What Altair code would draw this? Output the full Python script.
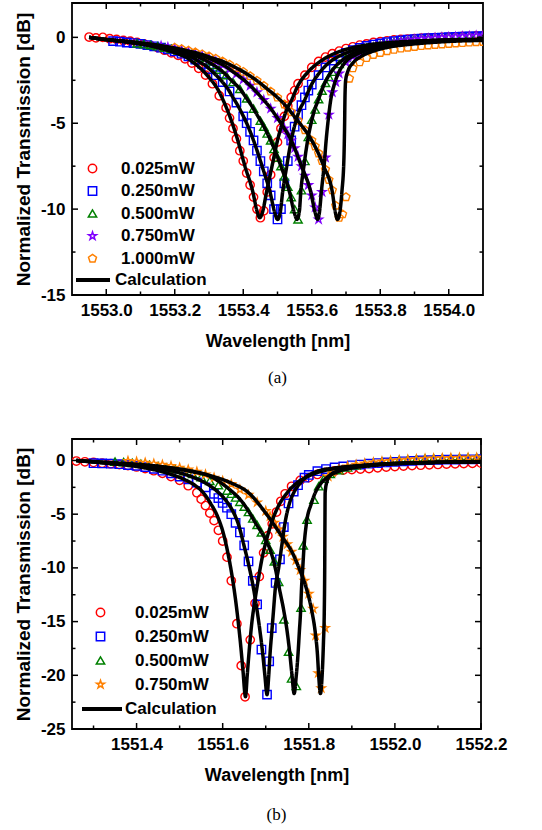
import altair as alt
import pandas as pd

FONT = "Liberation Sans"
SERIF = "Liberation Serif"

STAR = "M0,-1L0.2245,-0.309L0.9511,-0.309L0.3633,0.118L0.5878,0.809L0,0.382L-0.5878,0.809L-0.3633,0.118L-0.9511,-0.309L-0.2245,-0.309Z"
PENTAGON = "M0,-1L0.9511,-0.309L0.5878,0.809L-0.5878,0.809L-0.9511,-0.309Z"

# ------------------------------------------------------------------ panel (a)
powers_a = ["0.025mW", "0.250mW", "0.500mW", "0.750mW", "1.000mW"]
colors_a = ["#FF0000", "#0000FF", "#008000", "#8000FF", "#FF8000"]
shapes_a = ["circle", "square", "triangle-up", STAR, PENTAGON]

a025_x = [1552.95, 1552.97, 1552.99, 1553.01, 1553.03, 1553.05, 1553.07, 1553.09, 1553.11, 1553.13, 1553.15,
          1553.17, 1553.19, 1553.21, 1553.23, 1553.25, 1553.27, 1553.29, 1553.31, 1553.33, 1553.35,
          1553.36, 1553.37, 1553.38, 1553.39, 1553.40, 1553.41, 1553.42, 1553.43, 1553.44, 1553.45, 1553.46,
          1553.47, 1553.48, 1553.49, 1553.50, 1553.51, 1553.52, 1553.53, 1553.54, 1553.55, 1553.56,
          1553.58, 1553.60, 1553.62, 1553.64, 1553.66, 1553.68, 1553.70, 1553.72, 1553.74, 1553.76, 1553.78,
          1553.80, 1553.82, 1553.84, 1553.86, 1553.88, 1553.90, 1553.92, 1553.94, 1553.96, 1553.98, 1554.00,
          1554.02, 1554.04, 1554.06, 1554.08, 1554.10]
a025_y = [0.02, -0.03, 0.0, -0.08, -0.12, -0.18, -0.22, -0.3, -0.38, -0.48, -0.6, -0.75, -0.9, -1.05, -1.25,
          -1.5, -1.8, -2.2, -2.7, -3.4, -4.1,
          -4.7, -5.3, -5.9, -6.6, -7.2, -7.9, -8.6, -9.3, -10.0, -10.5, -10.1, -9.0, -8.0, -7.0, -6.1, -5.3,
          -4.6, -4.0, -3.5, -3.1, -2.7,
          -2.2, -1.75, -1.4, -1.15, -0.95, -0.8, -0.65, -0.55, -0.45, -0.38, -0.3, -0.25, -0.2, -0.15, -0.12,
          -0.1, -0.07, -0.05, -0.03, -0.01, 0.0, 0.02, 0.03, 0.05, 0.06, 0.08, 0.1]

a250_x = [1553.02, 1553.04, 1553.06, 1553.08, 1553.10, 1553.12, 1553.14, 1553.16, 1553.18, 1553.20, 1553.22,
          1553.24, 1553.26, 1553.28, 1553.30, 1553.32, 1553.34, 1553.36, 1553.38, 1553.40,
          1553.41, 1553.42, 1553.43, 1553.44, 1553.45, 1553.46, 1553.47, 1553.48, 1553.49, 1553.50, 1553.51,
          1553.52, 1553.53, 1553.54, 1553.55, 1553.56, 1553.57, 1553.58, 1553.59, 1553.60,
          1553.62, 1553.64, 1553.66, 1553.68, 1553.70, 1553.72, 1553.74, 1553.76, 1553.78, 1553.80, 1553.82,
          1553.84, 1553.86, 1553.88, 1553.90, 1553.92, 1553.94, 1553.96, 1553.98, 1554.00, 1554.02, 1554.04,
          1554.06, 1554.08, 1554.10]
a250_y = [-0.22, -0.25, -0.3, -0.33, -0.38, -0.45, -0.52, -0.6, -0.7, -0.82, -0.95, -1.1, -1.3, -1.55, -1.85,
          -2.2, -2.6, -3.15, -3.8, -4.6,
          -5.0, -5.5, -6.0, -6.6, -7.2, -7.8, -8.5, -9.2, -10.0, -10.6, -10.0, -8.5, -7.2, -6.0, -5.2, -4.5,
          -3.95, -3.5, -3.1, -2.75,
          -2.2, -1.75, -1.35, -1.1, -0.9, -0.75, -0.62, -0.5, -0.42, -0.35, -0.28, -0.22, -0.18, -0.14, -0.1,
          -0.08, -0.05, -0.03, -0.01, 0.01, 0.03, 0.04, 0.05, 0.06, 0.07]

a500_x = [1553.09, 1553.11, 1553.13, 1553.15, 1553.17, 1553.19, 1553.21, 1553.23, 1553.25, 1553.27, 1553.29,
          1553.31, 1553.33, 1553.35, 1553.37, 1553.39, 1553.41, 1553.43, 1553.45,
          1553.46, 1553.47, 1553.48, 1553.49, 1553.50, 1553.51, 1553.52, 1553.53, 1553.54, 1553.55, 1553.56,
          1553.57, 1553.58, 1553.59, 1553.60, 1553.61, 1553.62, 1553.63, 1553.64, 1553.65, 1553.66,
          1553.68, 1553.70, 1553.72, 1553.74, 1553.76, 1553.78, 1553.80, 1553.82, 1553.84, 1553.86, 1553.88,
          1553.90, 1553.92, 1553.94, 1553.96, 1553.98, 1554.00, 1554.02, 1554.04, 1554.06, 1554.08, 1554.10]
a500_y = [-0.35, -0.4, -0.45, -0.52, -0.6, -0.67, -0.76, -0.88, -1.0, -1.18, -1.35, -1.6, -1.88, -2.2, -2.6,
          -3.0, -3.55, -4.15, -4.85,
          -5.2, -5.6, -6.0, -6.5, -7.0, -7.5, -8.1, -8.7, -9.3, -10.0, -10.6, -8.9, -7.2, -5.8, -4.8, -4.2,
          -3.6, -3.1, -2.65, -2.3, -2.0,
          -1.55, -1.2, -0.95, -0.78, -0.62, -0.52, -0.42, -0.33, -0.26, -0.2, -0.15, -0.1, -0.07, -0.04,
          -0.02, 0.0, 0.02, 0.04, 0.05, 0.07, 0.08, 0.09]

a750_x = [1553.16, 1553.18, 1553.20, 1553.22, 1553.24, 1553.26, 1553.28, 1553.30, 1553.32, 1553.34, 1553.36,
          1553.38, 1553.40, 1553.42, 1553.44, 1553.46, 1553.48, 1553.50, 1553.52,
          1553.53, 1553.54, 1553.55, 1553.56, 1553.57, 1553.58, 1553.59, 1553.60, 1553.61, 1553.62, 1553.63,
          1553.64, 1553.65, 1553.66, 1553.67, 1553.68,
          1553.70, 1553.72, 1553.74, 1553.76, 1553.78, 1553.80, 1553.82, 1553.84, 1553.86, 1553.88, 1553.90,
          1553.92, 1553.94, 1553.96, 1553.98, 1554.00, 1554.02, 1554.04, 1554.06, 1554.08, 1554.10]
a750_y = [-0.5, -0.58, -0.66, -0.75, -0.85, -0.95, -1.08, -1.23, -1.4, -1.6, -1.85, -2.12, -2.45, -2.82, -3.2,
          -3.65, -4.15, -4.7, -5.3,
          -5.65, -6.0, -6.45, -6.95, -7.5, -8.05, -8.6, -9.2, -9.9, -10.6, -9.0, -7.0, -4.5, -3.2, -2.6, -2.1,
          -1.45, -1.1, -0.9, -0.75, -0.6, -0.5, -0.4, -0.32, -0.25, -0.19, -0.14, -0.1, -0.07, -0.04, -0.01,
          0.01, 0.03, 0.05, 0.07, 0.09, 0.1]

a1000_x = [1553.20, 1553.22, 1553.24, 1553.26, 1553.28, 1553.30, 1553.32, 1553.34, 1553.36, 1553.38, 1553.40,
           1553.42, 1553.44, 1553.46, 1553.48, 1553.50, 1553.52, 1553.54, 1553.56, 1553.58, 1553.60,
           1553.61, 1553.62, 1553.63, 1553.64, 1553.65, 1553.66, 1553.67, 1553.68, 1553.69, 1553.70, 1553.71,
           1553.72,
           1553.74, 1553.76, 1553.78, 1553.80, 1553.82, 1553.84, 1553.86, 1553.88, 1553.90, 1553.92, 1553.94,
           1553.96, 1553.98, 1554.00, 1554.02, 1554.04, 1554.06, 1554.08, 1554.10]
a1000_y = [-0.6, -0.68, -0.77, -0.87, -0.98, -1.1, -1.24, -1.4, -1.58, -1.78, -2.0, -2.25, -2.52, -2.82, -3.15,
           -3.5, -3.9, -4.35, -4.85, -5.4, -6.0,
           -6.35, -6.75, -7.2, -7.7, -8.3, -8.9, -9.8, -10.5, -10.3, -9.3, -2.4, -1.8,
           -1.45, -1.2, -1.02, -0.9, -0.8, -0.72, -0.65, -0.6, -0.55, -0.5, -0.47, -0.44, -0.41, -0.38, -0.35,
           -0.33, -0.3, -0.28, -0.26]

# calculation curves (a)
ca025_x = [1552.95, 1552.98, 1553.01, 1553.04, 1553.07, 1553.11, 1553.14, 1553.17, 1553.195, 1553.215,
           1553.235, 1553.25, 1553.268, 1553.285, 1553.305, 1553.325, 1553.34, 1553.355, 1553.368, 1553.384,
           1553.405, 1553.428, 1553.44, 1553.448, 1553.456, 1553.468, 1553.484, 1553.500, 1553.514, 1553.525,
           1553.540, 1553.56, 1553.59, 1553.625, 1553.66, 1553.70, 1553.76, 1553.83, 1553.92, 1554.0, 1554.1]
ca025_y = [0.0, -0.08, -0.15, -0.22, -0.3, -0.42, -0.55, -0.7, -0.86, -1.0,
           -1.18, -1.4, -1.68, -2.0, -2.45, -3.0, -3.6, -4.3, -5.0, -6.0,
           -7.5, -9.0, -10.1, -10.5, -10.2, -9.0, -7.5, -6.0, -5.0, -4.3,
           -3.7, -2.8, -2.0, -1.4, -1.0, -0.7, -0.45, -0.3, -0.2, -0.15, -0.12]
ca250_x = [1552.95, 1552.98, 1553.01, 1553.05, 1553.09, 1553.12, 1553.15, 1553.18, 1553.205, 1553.23,
           1553.25, 1553.27, 1553.29, 1553.31, 1553.335, 1553.355, 1553.37, 1553.385, 1553.398, 1553.41,
           1553.43, 1553.455, 1553.478, 1553.492, 1553.50, 1553.508, 1553.515, 1553.527, 1553.540, 1553.552,
           1553.563, 1553.578, 1553.598, 1553.625, 1553.655, 1553.69, 1553.73, 1553.79, 1553.86, 1553.94,
           1554.02, 1554.1]
ca250_y = [0.0, -0.08, -0.15, -0.25, -0.35, -0.45, -0.56, -0.7, -0.84, -1.0,
           -1.15, -1.4, -1.65, -2.0, -2.5, -3.0, -3.5, -4.0, -4.5, -5.0,
           -6.0, -7.5, -9.0, -10.2, -10.6, -10.2, -9.0, -7.5, -6.0, -5.0,
           -4.3, -3.7, -2.8, -2.0, -1.4, -1.0, -0.7, -0.45, -0.3, -0.2, -0.15, -0.13]
ca500_x = [1552.95, 1552.98, 1553.01, 1553.06, 1553.10, 1553.13, 1553.165, 1553.20, 1553.225, 1553.25,
           1553.275, 1553.295, 1553.32, 1553.34, 1553.365, 1553.39, 1553.408, 1553.425, 1553.44, 1553.455,
           1553.48, 1553.51, 1553.535, 1553.549, 1553.557, 1553.564, 1553.568, 1553.577, 1553.588, 1553.598,
           1553.607, 1553.618, 1553.635, 1553.657, 1553.685, 1553.715, 1553.755, 1553.81, 1553.88, 1553.96,
           1554.04, 1554.1]
ca500_y = [0.0, -0.08, -0.15, -0.25, -0.35, -0.45, -0.57, -0.7, -0.84, -1.0,
           -1.2, -1.4, -1.7, -2.0, -2.5, -3.0, -3.5, -4.0, -4.5, -5.0,
           -6.0, -7.5, -9.0, -10.2, -10.6, -10.1, -9.0, -7.5, -6.0, -5.0,
           -4.3, -3.7, -2.8, -2.0, -1.4, -1.0, -0.7, -0.45, -0.3, -0.2, -0.15, -0.13]
ca750_x = [1552.95, 1552.98, 1553.01, 1553.06, 1553.10, 1553.14, 1553.175, 1553.21, 1553.24, 1553.27,
           1553.295, 1553.32, 1553.345, 1553.37, 1553.40, 1553.43, 1553.453, 1553.475, 1553.493, 1553.51,
           1553.54, 1553.57, 1553.597, 1553.61, 1553.617, 1553.623, 1553.628, 1553.636, 1553.642, 1553.647,
           1553.651, 1553.655, 1553.665, 1553.68, 1553.70, 1553.73, 1553.77, 1553.83, 1553.90, 1553.97,
           1554.04, 1554.1]
ca750_y = [0.0, -0.08, -0.15, -0.25, -0.35, -0.45, -0.57, -0.7, -0.84, -1.0,
           -1.18, -1.4, -1.65, -2.0, -2.45, -3.0, -3.5, -4.0, -4.5, -5.0,
           -6.0, -7.5, -9.0, -10.2, -10.6, -10.1, -9.0, -7.5, -6.0, -5.0,
           -4.3, -3.7, -2.8, -2.0, -1.4, -1.0, -0.7, -0.45, -0.3, -0.2, -0.15, -0.13]
ca1000_x = [1552.95, 1552.98, 1553.01, 1553.07, 1553.11, 1553.15, 1553.185, 1553.22, 1553.25, 1553.28,
            1553.31, 1553.34, 1553.37, 1553.40, 1553.435, 1553.47, 1553.50, 1553.525, 1553.545, 1553.565,
            1553.60, 1553.635, 1553.66, 1553.669, 1553.675, 1553.681, 1553.688, 1553.694, 1553.696, 1553.697,
            1553.699, 1553.705, 1553.72, 1553.745, 1553.78, 1553.83, 1553.89, 1553.95, 1554.02, 1554.1]
ca1000_y = [0.0, -0.08, -0.15, -0.25, -0.35, -0.45, -0.57, -0.7, -0.84, -1.0,
            -1.2, -1.4, -1.68, -2.0, -2.45, -3.0, -3.5, -4.0, -4.5, -5.0,
            -6.0, -7.5, -9.0, -10.2, -10.6, -10.3, -9.0, -7.0, -5.0, -3.5,
            -2.5, -2.0, -1.5, -1.1, -0.8, -0.55, -0.4, -0.3, -0.22, -0.18]

xmajor_a = [1553.0, 1553.2, 1553.4, 1553.6, 1553.8, 1554.0]
xminor_a = [1553.1, 1553.3, 1553.5, 1553.7, 1553.9]
ymajor_a = [-15, -10, -5, 0]
yminor_a = [-12.5, -7.5, -2.5]

# ------------------------------------------------------------------ panel (b)
powers_b = ["0.025mW", "0.250mW", "0.500mW", "0.750mW"]
colors_b = ["#FF0000", "#0000FF", "#008000", "#FF8000"]
shapes_b = ["circle", "square", "triangle-up", STAR]

b025_x = [1551.26, 1551.28, 1551.30, 1551.32, 1551.34, 1551.36, 1551.38, 1551.40, 1551.42, 1551.44, 1551.46,
          1551.48, 1551.50, 1551.52, 1551.54,
          1551.55, 1551.56, 1551.57, 1551.58, 1551.59, 1551.60, 1551.61, 1551.62, 1551.633, 1551.643, 1551.652,
          1551.664, 1551.675, 1551.685, 1551.695, 1551.705, 1551.715, 1551.725, 1551.735, 1551.745, 1551.76,
          1551.78, 1551.80, 1551.82, 1551.84, 1551.86, 1551.88, 1551.90, 1551.92, 1551.94, 1551.96, 1551.98,
          1552.00, 1552.02, 1552.04, 1552.06, 1552.08, 1552.10, 1552.12, 1552.14, 1552.16, 1552.18, 1552.20]
b025_y = [-0.05, -0.12, -0.18, -0.25, -0.3, -0.38, -0.48, -0.6, -0.75, -0.95, -1.2, -1.5, -1.85, -2.35, -3.0,
          -3.6, -4.2, -4.9, -5.6, -6.5, -7.5, -9.0, -11.2, -15.2, -19.1, -22.0, -16.7, -13.3, -10.8, -8.6,
          -7.0, -5.9, -4.8, -3.8, -3.1, -2.4,
          -1.85, -1.6, -1.3, -1.1, -0.98, -0.9, -0.85, -0.8, -0.75, -0.68, -0.62, -0.56, -0.52, -0.48, -0.44,
          -0.4, -0.37, -0.34, -0.31, -0.29, -0.27, -0.25]

b250_x = [1551.30, 1551.32, 1551.34, 1551.36, 1551.38, 1551.40, 1551.42, 1551.44, 1551.46, 1551.48, 1551.50,
          1551.52, 1551.54, 1551.56, 1551.58,
          1551.59, 1551.60, 1551.61, 1551.62, 1551.63, 1551.64, 1551.65, 1551.66, 1551.67, 1551.68, 1551.69,
          1551.703, 1551.708, 1551.714, 1551.723, 1551.733, 1551.742, 1551.753, 1551.765, 1551.775, 1551.79,
          1551.80, 1551.82, 1551.84, 1551.86, 1551.88, 1551.90, 1551.92, 1551.94, 1551.96, 1551.98, 1552.00,
          1552.02, 1552.04, 1552.06, 1552.08, 1552.10, 1552.12, 1552.14, 1552.16, 1552.18, 1552.20]
b250_y = [-0.25, -0.28, -0.3, -0.35, -0.42, -0.5, -0.62, -0.78, -0.95, -1.2, -1.5, -1.75, -2.05, -2.5, -3.1,
          -3.5, -3.95, -4.4, -5.0, -5.8, -6.7, -7.9, -9.4, -11.2, -13.4, -17.6,
          -21.8, -18.7, -15.6, -11.4, -9.2, -6.2, -4.0, -2.9, -2.3, -1.6,
          -1.35, -1.0, -0.8, -0.65, -0.55, -0.45, -0.38, -0.3, -0.24, -0.18, -0.13, -0.08, -0.04, 0.0, 0.03,
          0.05, 0.07, 0.09, 0.1, 0.11, 0.12]

b500_x = [1551.35, 1551.37, 1551.39, 1551.41, 1551.43, 1551.45, 1551.47, 1551.49, 1551.51, 1551.53, 1551.55,
          1551.57, 1551.59,
          1551.61, 1551.62, 1551.63, 1551.64, 1551.65, 1551.66, 1551.67, 1551.68, 1551.69, 1551.70, 1551.71,
          1551.72, 1551.73,
          1551.742, 1551.753, 1551.76, 1551.771, 1551.782, 1551.787, 1551.796, 1551.812, 1551.823, 1551.835,
          1551.85, 1551.87, 1551.89, 1551.91, 1551.93, 1551.95, 1551.97, 1551.99, 1552.01, 1552.03, 1552.05,
          1552.07, 1552.09, 1552.11, 1552.13, 1552.15, 1552.17, 1552.19]
b500_y = [-0.1, -0.15, -0.22, -0.3, -0.4, -0.52, -0.65, -0.82, -1.0, -1.25, -1.55, -1.9, -2.3,
          -2.8, -3.1, -3.45, -3.85, -4.3, -4.8, -5.4, -6.0, -6.7, -7.4, -8.3, -9.4, -11.3,
          -14.8, -17.8, -20.3, -21.0, -13.7, -7.9, -5.5, -3.66, -2.4, -1.7,
          -1.25, -0.9, -0.65, -0.45, -0.3, -0.2, -0.1, -0.02, 0.05, 0.1, 0.14, 0.18, 0.2, 0.22, 0.24, 0.26,
          0.27, 0.28]

b750_x = [1551.38, 1551.40, 1551.42, 1551.44, 1551.46, 1551.48, 1551.50, 1551.52, 1551.54, 1551.56, 1551.58,
          1551.60, 1551.62, 1551.64, 1551.66, 1551.68, 1551.70,
          1551.71, 1551.72, 1551.73, 1551.74, 1551.75, 1551.76, 1551.77, 1551.78, 1551.79, 1551.80, 1551.81,
          1551.816, 1551.822, 1551.829, 1551.838, 1551.845, 1551.855,
          1551.87, 1551.89, 1551.91, 1551.93, 1551.95, 1551.97, 1551.99, 1552.01, 1552.03, 1552.05, 1552.07,
          1552.09, 1552.11, 1552.13, 1552.15, 1552.17, 1552.19]
b750_y = [-0.05, -0.12, -0.2, -0.3, -0.4, -0.52, -0.67, -0.85, -1.05, -1.3, -1.6, -1.9, -2.2, -2.7, -3.2,
          -3.9, -4.7,
          -5.2, -5.8, -6.4, -7.1, -7.8, -8.5, -9.3, -10.2, -11.2, -12.4, -13.8,
          -16.3, -19.8, -21.2, -15.6, -1.5, -1.1,
          -0.8, -0.55, -0.4, -0.28, -0.18, -0.1, -0.03, 0.03, 0.08, 0.12, 0.16, 0.19, 0.21, 0.23, 0.25, 0.26,
          0.27]

cb025_x = [1551.26, 1551.30, 1551.34, 1551.38, 1551.42, 1551.45, 1551.48, 1551.51, 1551.535, 1551.555,
           1551.572, 1551.588, 1551.603, 1551.613, 1551.622, 1551.630, 1551.636, 1551.642, 1551.647, 1551.653,
           1551.657, 1551.662, 1551.668, 1551.675, 1551.683, 1551.692, 1551.703, 1551.716, 1551.730, 1551.750,
           1551.772, 1551.797, 1551.83, 1551.87, 1551.93, 1551.97, 1552.02, 1552.1, 1552.2]
cb025_y = [0.0, -0.15, -0.3, -0.45, -0.7, -0.95, -1.3, -1.75, -2.3, -3.0,
           -4.0, -5.2, -7.0, -8.8, -10.8, -13.0, -15.0, -17.3, -19.5, -22.0,
           -20.0, -17.5, -15.0, -13.0, -11.0, -9.0, -7.2, -5.5, -4.2, -3.0,
           -2.1, -1.5, -1.0, -0.7, -0.45, -0.33, -0.25, -0.17, -0.12]
cb250_x = [1551.26, 1551.30, 1551.34, 1551.38, 1551.42, 1551.46, 1551.50, 1551.53, 1551.56, 1551.585,
           1551.605, 1551.622, 1551.637, 1551.650, 1551.662, 1551.672, 1551.680, 1551.687, 1551.693, 1551.698,
           1551.703, 1551.707, 1551.710, 1551.714, 1551.718, 1551.722, 1551.730, 1551.737, 1551.744, 1551.755,
           1551.765, 1551.778, 1551.795, 1551.82, 1551.86, 1551.93, 1551.97, 1552.02, 1552.1, 1552.2]
cb250_y = [0.0, -0.13, -0.25, -0.38, -0.55, -0.8, -1.15, -1.55, -2.1, -2.8,
           -3.6, -4.6, -6.0, -8.0, -10.0, -12.0, -14.0, -16.0, -18.0, -20.0,
           -21.8, -20.0, -18.0, -16.0, -14.0, -12.0, -10.0, -8.0, -6.0, -4.0,
           -3.0, -2.2, -1.5, -1.0, -0.7, -0.45, -0.33, -0.25, -0.17, -0.12]
cb500_x = [1551.26, 1551.30, 1551.34, 1551.38, 1551.43, 1551.48, 1551.53, 1551.57, 1551.60, 1551.622,
           1551.64, 1551.655, 1551.676, 1551.700, 1551.712, 1551.722, 1551.732, 1551.742, 1551.750, 1551.756,
           1551.761, 1551.766, 1551.771, 1551.775, 1551.778, 1551.781, 1551.783, 1551.786, 1551.789, 1551.794,
           1551.806, 1551.815, 1551.827, 1551.845, 1551.87, 1551.90, 1551.94, 1551.98, 1552.03, 1552.1, 1552.2]
cb500_y = [0.0, -0.12, -0.22, -0.33, -0.5, -0.72, -1.05, -1.45, -2.2, -2.9,
           -3.6, -4.4, -5.8, -7.4, -8.5, -10.0, -12.0, -14.0, -16.0, -18.0,
           -20.0, -21.7, -20.0, -18.0, -16.0, -14.0, -12.0, -10.0, -8.0, -6.0,
           -4.0, -3.0, -2.2, -1.5, -1.0, -0.7, -0.5, -0.35, -0.25, -0.17, -0.12]
cb750_x = [1551.26, 1551.30, 1551.34, 1551.38, 1551.43, 1551.48, 1551.53, 1551.57, 1551.62, 1551.66,
           1551.70, 1551.738, 1551.762, 1551.777, 1551.795, 1551.807, 1551.815, 1551.820, 1551.823, 1551.827,
           1551.831, 1551.834, 1551.836, 1551.837, 1551.8375, 1551.838, 1551.842, 1551.85, 1551.865, 1551.89,
           1551.93, 1551.98, 1552.04, 1552.12, 1552.2]
cb750_y = [0.0, -0.1, -0.2, -0.3, -0.45, -0.68, -1.0, -1.4, -2.1, -3.0,
           -4.9, -7.1, -8.6, -10.0, -12.0, -14.0, -16.0, -18.0, -20.0, -21.7,
           -20.0, -17.0, -14.0, -10.0, -6.0, -3.0, -2.0, -1.4, -1.0, -0.7,
           -0.5, -0.35, -0.25, -0.17, -0.12]

xmajor_b = [1551.4, 1551.6, 1551.8, 1552.0, 1552.2]
xminor_b = [1551.3, 1551.5, 1551.7, 1551.9, 1552.1]
ymajor_b = [-25, -20, -15, -10, -5, 0]
yminor_b = [-22.5, -17.5, -12.5, -7.5, -2.5]

MAJOR_LEN = 6
MINOR_LEN = 3.5


def build(names, xs, ys):
    rows = []
    for n, xl, yl in zip(names, xs, ys):
        assert len(xl) == len(yl), (n, len(xl), len(yl))
        for i, (x, y) in enumerate(zip(xl, yl)):
            rows.append({"power": n, "wl": x, "dB": y, "i": i, "kind": "Calculation"})
    return pd.DataFrame(rows)


pts_a = build(powers_a, [a025_x, a250_x, a500_x, a750_x, a1000_x],
              [a025_y, a250_y, a500_y, a750_y, a1000_y])
lin_a = build(powers_a, [ca025_x, ca250_x, ca500_x, ca750_x, ca1000_x],
              [ca025_y, ca250_y, ca500_y, ca750_y, ca1000_y])
pts_b = build(powers_b, [b025_x, b250_x, b500_x, b750_x], [b025_y, b250_y, b500_y, b750_y])
lin_b = build(powers_b, [cb025_x, cb250_x, cb500_x, cb750_x], [cb025_y, cb250_y, cb500_y, cb750_y])


def panel(pts, lin, xdom, ydom, W, H, xmaj, xmin, ymaj, ymin, names, colors, shapes,
          mpos, cpos, caption, cap_off):
    xs = alt.Scale(domain=xdom, nice=False, zero=False)
    ys = alt.Scale(domain=ydom, nice=False, zero=False)
    lab_x = alt.Axis(orient="bottom", values=xmaj, format=".1f", ticks=False, domain=False, grid=False,
                     labelFont=FONT, labelFontSize=17, labelFontWeight="bold", labelColor="black",
                     labelPadding=7, labelFlush=False, title="Wavelength [nm]", titleFont=FONT,
                     titleFontSize=18, titleFontWeight="bold", titleColor="black", titlePadding=14)
    lab_y = alt.Axis(orient="left", values=ymaj, labelExpr="toString(datum.value)", ticks=False,
                     domain=False, grid=False,
                     labelFont=FONT, labelFontSize=17, labelFontWeight="bold", labelColor="black",
                     labelPadding=7, title="Normalized Transmission [dB]", titleFont=FONT,
                     titleFontSize=19, titleFontWeight="bold", titleColor="black", titlePadding=7)
    X = lambda f: alt.X(f, scale=xs, axis=lab_x)
    Y = lambda f: alt.Y(f, scale=ys, axis=lab_y)

    mleg = alt.Legend(orient="none", legendX=mpos[0], legendY=mpos[1], title=None, labelFont=FONT,
                      labelFontSize=17, labelFontWeight="bold", labelColor="black", symbolSize=70,
                      symbolStrokeWidth=1.5, labelOffset=mpos[2], rowPadding=mpos[3], padding=0,
                      labelLimit=300)
    cleg = alt.Legend(orient="none", legendX=cpos[0], legendY=cpos[1], title=None, labelFont=FONT,
                      labelFontSize=17, labelFontWeight="bold", labelColor="black", symbolType="stroke",
                      symbolSize=cpos[2] ** 2, symbolStrokeWidth=4, symbolStrokeColor="black",
                      labelOffset=cpos[3], padding=0, labelLimit=300)

    points = alt.Chart(pts).mark_point(filled=False, size=70, strokeWidth=1.4, opacity=1, clip=True).encode(
        x=X("wl:Q"), y=Y("dB:Q"),
        color=alt.Color("power:N", scale=alt.Scale(domain=names, range=colors), legend=mleg),
        shape=alt.Shape("power:N", scale=alt.Scale(domain=names, range=shapes), legend=mleg),
    )
    lines = alt.Chart(lin).mark_line(color="black", strokeWidth=3.5, interpolate="monotone", clip=True).encode(
        x=X("wl:Q"), y=Y("dB:Q"),
        detail="power:N",
        order="i:Q",
        strokeDash=alt.StrokeDash("kind:N", scale=alt.Scale(domain=["Calculation"], range=[[1, 0]]),
                                  legend=cleg),
    )

    # inward frame ticks (major and minor) on all four sides
    layers = [points, lines]
    for vals, ln in ((xmaj, MAJOR_LEN), (xmin, MINOR_LEN)):
        base = alt.Chart(pd.DataFrame({"wl": vals})).mark_rule(color="black", strokeWidth=1.5)
        layers.append(base.encode(x=X("wl:Q"), y=alt.value(H), y2=alt.value(H - ln)))
        layers.append(base.encode(x=X("wl:Q"), y=alt.value(0), y2=alt.value(ln)))
    for vals, ln in ((ymaj, MAJOR_LEN), (ymin, MINOR_LEN)):
        base = alt.Chart(pd.DataFrame({"dB": vals})).mark_rule(color="black", strokeWidth=1.5)
        layers.append(base.encode(y=Y("dB:Q"), x=alt.value(0), x2=alt.value(ln)))
        layers.append(base.encode(y=Y("dB:Q"), x=alt.value(W), x2=alt.value(W - ln)))

    return alt.layer(*layers).properties(
        width=W, height=H,
        title=alt.TitleParams(text=caption, orient="bottom", anchor="middle", frame="group", font=SERIF,
                              fontSize=17, fontWeight="normal", color="black", offset=cap_off))


pa = panel(pts_a, lin_a, [1552.9, 1554.1], [-15, 2], 411, 292, xmajor_a, xminor_a, ymajor_a, yminor_a,
           powers_a, colors_a, shapes_a, (12, 157, 20, 4.5), (2, 258, 34, 3), "(a)", 20)
pb = panel(pts_b, lin_b, [1551.25, 1552.2], [-25, 2], 409, 290, xmajor_b, xminor_b, ymajor_b, yminor_b,
           powers_b, colors_b, shapes_b, (20, 165, 26, 6), (8, 248, 40, 1), "(b)", 23)

chart = alt.vconcat(pa, pb, spacing=50).resolve_scale(
    color="independent", shape="independent", strokeDash="independent"
).configure_view(stroke="black", strokeWidth=1.8).properties(
    padding={"left": 13, "top": 1, "right": 5, "bottom": 2}
)

chart.save("out.html", embed_options={"renderer": "svg", "actions": False})
